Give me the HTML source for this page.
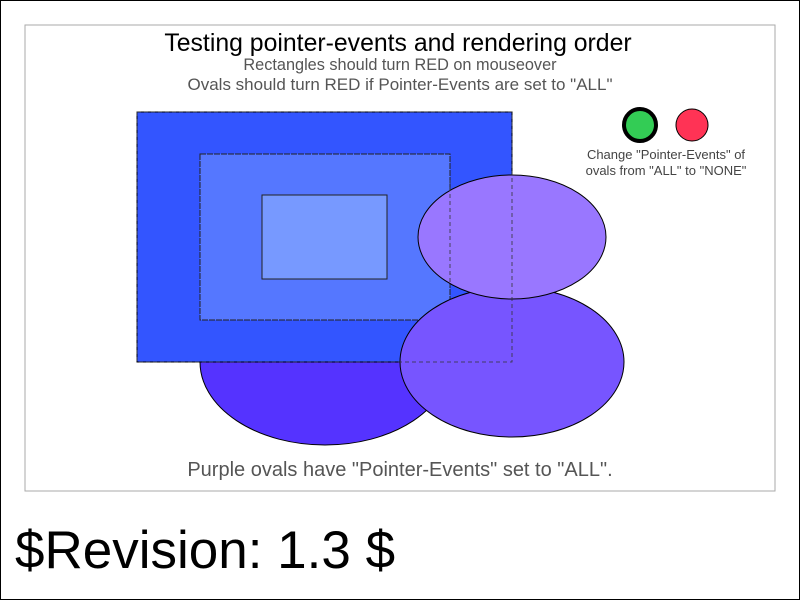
<!DOCTYPE html>
<html><head><style>html,body{margin:0;padding:0;background:#fff}</style></head>
<body>
<svg width="800" height="600" xmlns="http://www.w3.org/2000/svg" font-family="Liberation Sans, sans-serif">
<rect x="0.5" y="0.5" width="799" height="599" fill="#fff" stroke="#000"/>
<rect x="25" y="25" width="750" height="466" fill="#fff" stroke="#aaa"/>
<text x="398" y="51" text-anchor="middle" font-size="24.8" fill="#000">Testing pointer-events and rendering order</text>
<text x="400" y="70" text-anchor="middle" font-size="16.3" fill="#555">Rectangles should turn RED on mouseover</text>
<text x="400" y="90" text-anchor="middle" font-size="17" fill="#555">Ovals should turn RED if Pointer-Events are set to "ALL"</text>
<ellipse cx="325" cy="362" rx="125" ry="83" fill="#5533ff" stroke="#000"/>
<rect x="137" y="112" width="375" height="250" fill="#3355ff" stroke="#000"/>
<rect x="200" y="154" width="250" height="166" fill="#5577ff" stroke="#222" stroke-dasharray="6,1"/>
<rect x="262" y="195" width="125" height="84" fill="#7799ff" stroke="#222"/>
<ellipse cx="512" cy="362" rx="112" ry="75" fill="#7755ff" stroke="#000"/>
<ellipse cx="512" cy="237" rx="94" ry="62" fill="#9977ff" stroke="#000"/>
<rect x="137" y="112" width="375" height="250" fill="none" stroke="#333" stroke-dasharray="4,3" stroke-width="0.8"/>
<line x1="450" y1="180" x2="450" y2="286" stroke="#333" stroke-dasharray="4,3" stroke-width="0.8"/>
<circle cx="640" cy="125" r="16" fill="#33cc55" stroke="#000" stroke-width="4"/>
<circle cx="692" cy="125" r="16" fill="#ff3355" stroke="#000" stroke-width="1"/>
<text x="666" y="159" text-anchor="middle" font-size="13" fill="#444">Change "Pointer-Events" of</text>
<text x="666" y="175" text-anchor="middle" font-size="13" fill="#444">ovals from "ALL" to "NONE"</text>
<text x="400" y="476" text-anchor="middle" font-size="20" fill="#555">Purple ovals have "Pointer-Events" set to "ALL".</text>
<text x="15" y="568" font-size="53" fill="#000">$Revision: 1.3 $</text>
</svg>
</body></html>
